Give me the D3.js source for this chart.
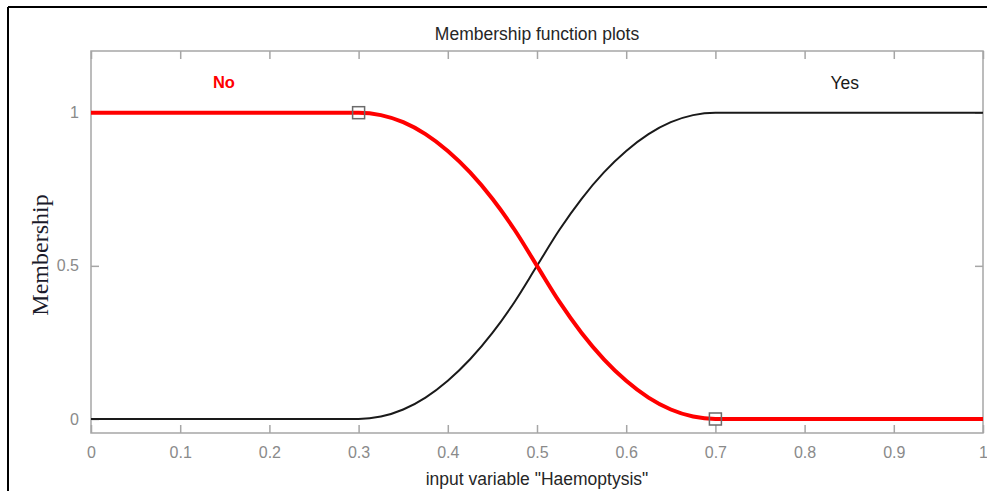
<!DOCTYPE html>
<html>
<head>
<meta charset="utf-8">
<script src="https://cdn.jsdelivr.net/npm/d3@7"></script>
<style>
  html, body { margin: 0; padding: 0; background: #fff; }
  svg { display: block; }
</style>
</head>
<body>
<svg id="chart" width="987" height="491"></svg>
<script>
// ---- data ----
const xValues = [0, 0.3, 0.325, 0.35, 0.375, 0.4, 0.425, 0.45, 0.475, 0.5,
                 0.525, 0.55, 0.575, 0.6, 0.625, 0.65, 0.675, 0.7, 1];
const noValues = [1, 1, 0.992, 0.969, 0.930, 0.875, 0.805, 0.719, 0.617, 0.5,
                  0.383, 0.281, 0.195, 0.125, 0.070, 0.031, 0.008, 0, 0];
const yesValues = [0, 0, 0.008, 0.031, 0.070, 0.125, 0.195, 0.281, 0.383, 0.5,
                   0.617, 0.719, 0.805, 0.875, 0.930, 0.969, 0.992, 1, 1];
const seriesNames = ["No", "Yes"];
const labelPositions = [0.149, 0.845];
const noMarkers = [[0.3, 1], [0.7, 0]];
const xTicks = [0, 0.1, 0.2, 0.3, 0.4, 0.5, 0.6, 0.7, 0.8, 0.9, 1];
const yTicks = [0, 0.5, 1];
const titleText = "Membership function plots";
const xLabelText = 'input variable "Haemoptysis"';
const yLabelText = "Membership";

// ---- layout ----
const svg = d3.select("#chart");
const L = 91, R = 983, T = 51, B = 433;
const x = d3.scaleLinear().domain([0, 1]).range([L, R]);
const y = d3.scaleLinear().domain([-0.0457, 1.2014]).range([B, T]);
const axisColor = "#a6a6a6";
const tickLabelColor = "#8a8a8a";
const sans = "Arial, 'Liberation Sans', sans-serif";

// outer frame (top and left visible)
svg.append("line").attr("x1", 8).attr("y1", 7).attr("x2", 987).attr("y2", 7)
  .attr("stroke", "#000").attr("stroke-width", 2);
svg.append("line").attr("x1", 8).attr("y1", 7).attr("x2", 8).attr("y2", 491)
  .attr("stroke", "#000").attr("stroke-width", 2);

// axes box
svg.append("rect").attr("x", L).attr("y", T).attr("width", R - L).attr("height", B - T)
  .attr("fill", "none").attr("stroke", axisColor).attr("stroke-width", 1.5);

const tickLen = 8;
const fmt = d => d3.format("")(d);
const xb = svg.append("g").attr("transform", `translate(0,${B})`)
  .call(d3.axisBottom(x).tickValues(xTicks).tickSize(-tickLen).tickPadding(14).tickFormat(fmt));
const xt = svg.append("g").attr("transform", `translate(0,${T})`)
  .call(d3.axisTop(x).tickValues(xTicks).tickSize(-tickLen).tickFormat(""));
const yl = svg.append("g").attr("transform", `translate(${L},0)`)
  .call(d3.axisLeft(y).tickValues(yTicks).tickSize(-tickLen).tickPadding(12).tickFormat(fmt));
const yr = svg.append("g").attr("transform", `translate(${R},0)`)
  .call(d3.axisRight(y).tickValues(yTicks).tickSize(-tickLen).tickFormat(""));

[xb, xt, yl, yr].forEach(g => {
  g.select(".domain").remove();
  g.selectAll(".tick line").attr("stroke", axisColor).attr("stroke-width", 1.5);
  g.selectAll(".tick text").attr("fill", tickLabelColor)
    .style("font-family", sans).style("font-size", "16px");
});

// curves
const pts = vals => xValues.map((d, i) => [d, vals[i]]);
const line = d3.line().x(d => x(d[0])).y(d => y(d[1])).curve(d3.curveMonotoneX);

svg.append("path").datum(pts(yesValues)).attr("d", line)
  .attr("fill", "none").attr("stroke", "#1a1a1a").attr("stroke-width", 2);
svg.append("path").datum(pts(noValues)).attr("d", line)
  .attr("fill", "none").attr("stroke", "#ff0000").attr("stroke-width", 4);

// markers
svg.selectAll("rect.mk").data(noMarkers).enter().append("rect")
  .attr("class", "mk")
  .attr("x", d => x(d[0]) - 6).attr("y", d => y(d[1]) - 6)
  .attr("width", 12).attr("height", 12)
  .attr("fill", "none").attr("stroke", "#6b6b6b").attr("stroke-width", 1.5);

// series labels
svg.append("text").attr("x", x(labelPositions[0])).attr("y", 88).attr("text-anchor", "middle")
  .attr("fill", "#ff0000").style("font-weight", "bold")
  .style("font-family", sans).style("font-size", "16.5px")
  .text(seriesNames[0]);
svg.append("text").attr("x", x(labelPositions[1])).attr("y", 89).attr("text-anchor", "middle")
  .attr("fill", "#1a1a1a")
  .style("font-family", sans).style("font-size", "17.5px")
  .text(seriesNames[1]);

// title & labels
svg.append("text").attr("x", (L + R) / 2).attr("y", 40).attr("text-anchor", "middle")
  .attr("fill", "#262626")
  .style("font-family", sans).style("font-size", "17.5px")
  .text(titleText);
svg.append("text").attr("x", (L + R) / 2).attr("y", 485).attr("text-anchor", "middle")
  .attr("fill", "#262626")
  .style("font-family", sans).style("font-size", "17.5px")
  .text(xLabelText);
svg.append("text").attr("transform", `translate(48,255) rotate(-90)`)
  .attr("text-anchor", "middle").attr("fill", "#1a1a2a")
  .style("font-family", "'Liberation Serif', 'Times New Roman', serif").style("font-size", "24px")
  .text(yLabelText);
</script>
</body>
</html>
